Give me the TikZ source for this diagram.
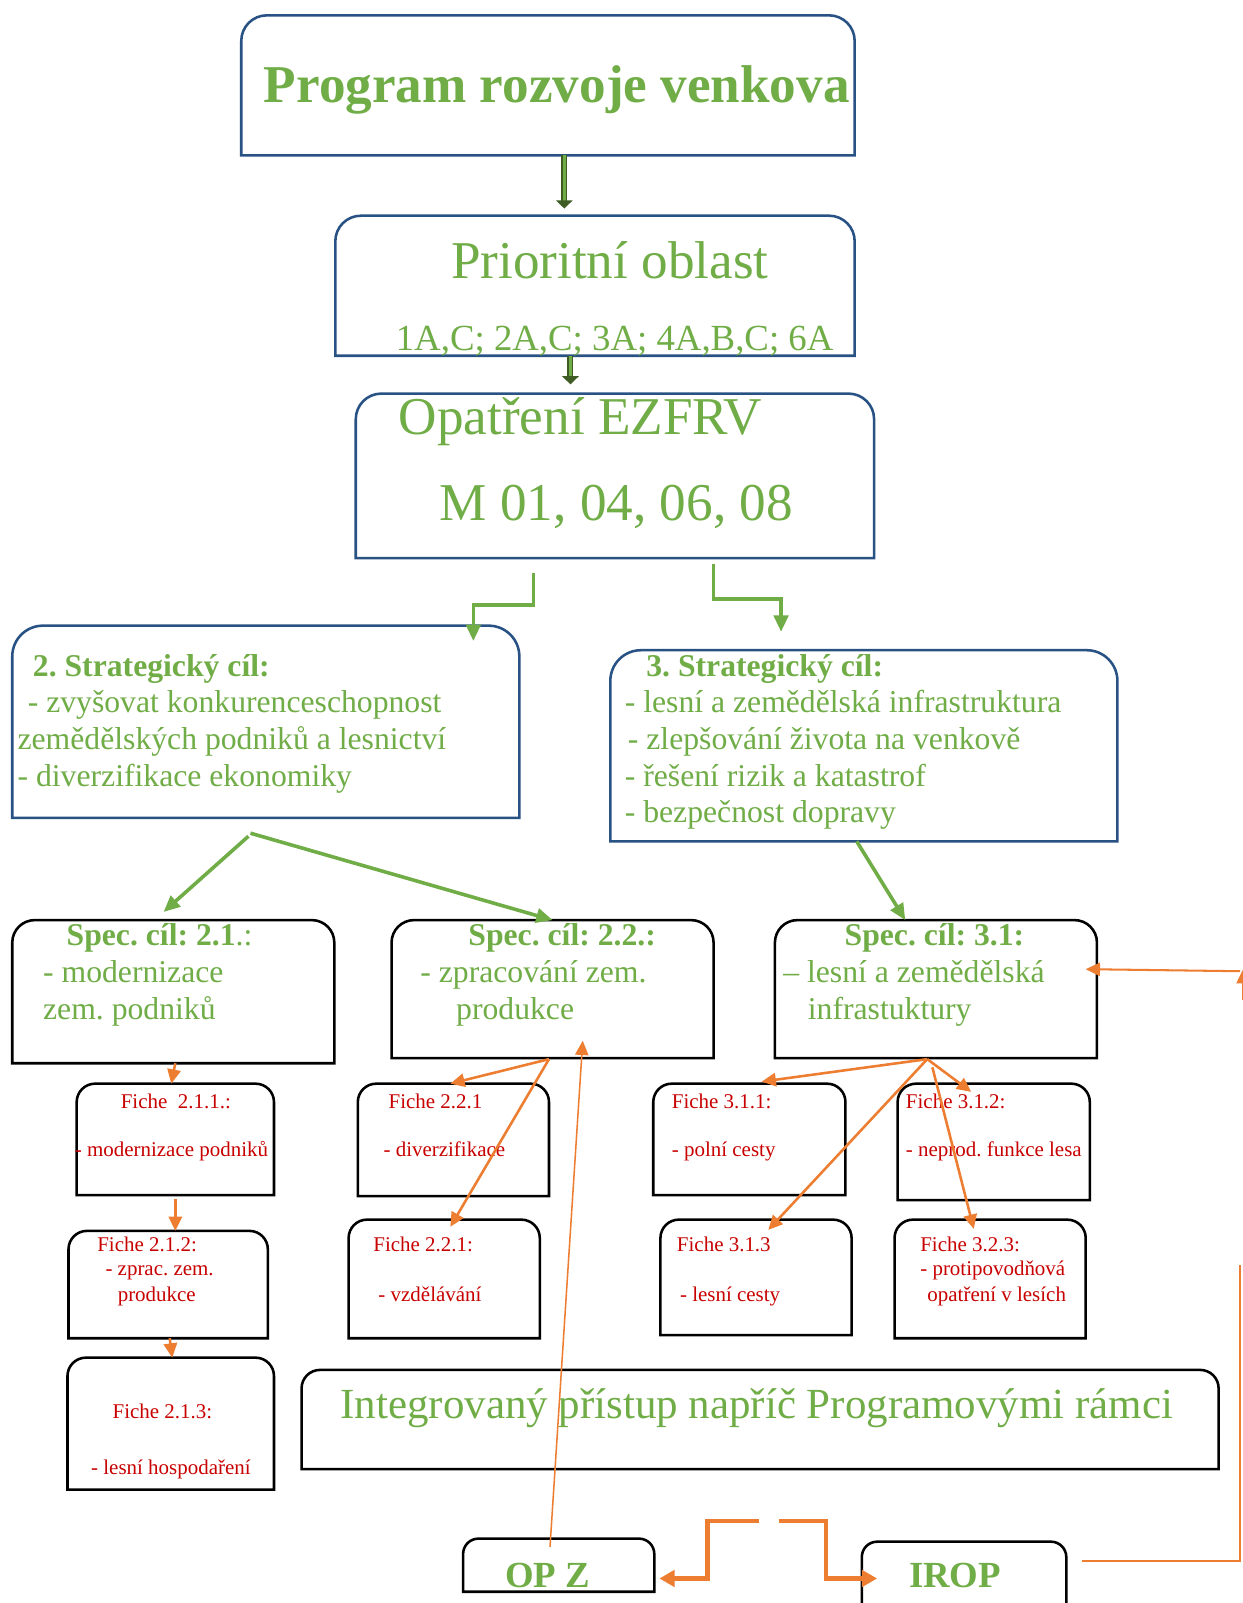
\documentclass[tikz,border=0pt]{standalone}
\usepackage{fontspec}
\setmainfont{Liberation Serif}
\usetikzlibrary{arrows.meta}
\frenchspacing

\definecolor{leaf}{RGB}{112,173,71}
\definecolor{navy}{RGB}{41,82,132}
\definecolor{moss}{RGB}{62,92,36}
\definecolor{carrot}{RGB}{237,125,49}
\definecolor{ruby}{RGB}{200,0,0}

\begin{document}
\begin{tikzpicture}[x=1pt, y=-1pt]
    % --- Styles ---
    \tikzstyle{box}=[inner sep=0pt, outer sep=0pt]
    \tikzstyle{frame_blue}=[draw=navy, line width=2.5pt]
    \tikzstyle{frame_black}=[draw=black, line width=2.5pt]
    \tikzstyle{txt}=[anchor=base west, inner sep=0pt, text=leaf]
    \tikzstyle{head_text}=[txt, font=\bfseries\fontsize{52}{60}\selectfont]
    \tikzstyle{big_text}=[txt, font=\fontsize{52}{60}\selectfont]
    \tikzstyle{mid_text}=[txt, font=\fontsize{36}{42}\selectfont]
    \tikzstyle{goal_text}=[txt, font=\fontsize{31}{36}\selectfont]
    \tikzstyle{goal_head}=[txt, font=\bfseries\fontsize{31}{36}\selectfont]
    \tikzstyle{fiche_text}=[txt, text=ruby, font=\fontsize{20.5}{24}\selectfont]
    \tikzstyle{frame_text}=[txt, font=\fontsize{42}{48}\selectfont]
    \tikzstyle{op_text}=[txt, font=\bfseries\fontsize{36}{42}\selectfont]
    \tikzstyle{double_arrow}=[draw=moss, double=leaf, double distance=2.6pt, line width=1.6pt,
        -{Triangle[length=8pt, width=16pt]}]
    \tikzstyle{green_arrow}=[draw=leaf, line width=3.5pt, -{Triangle[length=16pt, width=14pt]}]
    \tikzstyle{orange_arrow}=[draw=carrot, line width=2.5pt, -{Triangle[length=14pt, width=13pt]}]
    \tikzstyle{thin_orange}=[draw=carrot, line width=1.5pt]
    \tikzstyle{wide_orange}=[draw=carrot, line width=4pt, -{Triangle[length=15pt, width=16pt]}]

    \useasboundingbox[fill=white] (0,0) rectangle (1215,1568);

    % --- 1. Boxes ---
    \node[box, minimum width=600pt, minimum height=137pt] (prog) at (536,83.5) {};
    \node[box, minimum width=508pt, minimum height=137pt] (prio) at (582,279.5) {};
    \node[box, minimum width=507pt, minimum height=161pt] (opat) at (601.5,465.5) {};
    \node[box, minimum width=496pt, minimum height=188pt] (strat2) at (260,706) {};
    \node[box, minimum width=496pt, minimum height=187pt] (strat3) at (845,729.5) {};

    \node[box, minimum width=315pt, minimum height=140pt] (spec21) at (169.5,970) {};
    \node[box, minimum width=315pt, minimum height=135pt] (spec22) at (540.5,967.5) {};
    \node[box, minimum width=315pt, minimum height=135pt] (spec31) at (915.5,967.5) {};

    \node[box, minimum width=193pt, minimum height=109pt] (f211) at (171.5,1114.5) {};
    \node[box, minimum width=195pt, minimum height=105pt] (f212) at (164.5,1256.5) {};
    \node[box, minimum width=202pt, minimum height=129pt] (f213) at (167,1392.5) {};
    \node[box, minimum width=187pt, minimum height=110pt] (f221a) at (443.5,1115) {};
    \node[box, minimum width=187pt, minimum height=116pt] (f221b) at (434.5,1251) {};
    \node[box, minimum width=188pt, minimum height=109pt] (f311) at (733,1114.5) {};
    \node[box, minimum width=188pt, minimum height=114pt] (f312) at (972,1117) {};
    \node[box, minimum width=187pt, minimum height=113pt] (f313) at (739.5,1249.5) {};
    \node[box, minimum width=187pt, minimum height=116pt] (f323) at (968.5,1251) {};

    \node[box, minimum width=897pt, minimum height=97pt] (integ) at (743.5,1388.5) {};
    \node[box, minimum width=187pt, minimum height=52pt] (opz) at (546.5,1531) {};
    \node[box, minimum width=200pt, minimum height=102pt] (irop) at (943,1559) {};

    % outlines: round top corners, square bottom corners
    \foreach \n/\rad in {prog/25, prio/25, opat/25, strat2/30, strat3/30}
        \draw[frame_blue] (\n.south west) [rounded corners=\rad pt] -- (\n.north west)
            -- (\n.north east) [sharp corners] -- (\n.south east) -- cycle;
    \foreach \n/\rad in {spec21/22, spec22/22, spec31/22, f211/18, f212/18, f213/18,
        f221a/18, f221b/18, f311/18, f312/18, f313/18, f323/18, integ/18, opz/15, irop/15}
        \draw[frame_black] (\n.south west) [rounded corners=\rad pt] -- (\n.north west)
            -- (\n.north east) [sharp corners] -- (\n.south east) -- cycle;

    % --- 2. Texts ---
    \node[head_text] (prog_t) at (258,100) {Program rozvoje venkova};
    \node[big_text] (prio_t1) at (441,272) {Prioritní oblast};
    \node[mid_text] (prio_t2) at (387,343) {1A,C; 2A,C; 3A; 4A,B,C; 6A};
    \node[big_text] (opat_t1) at (390,425) {Opatření EZFRV};
    \node[big_text] (opat_t2) at (430,509) {M 01, 04, 06, 08};

    \node[goal_head] (s2_t1) at (32,662) {2. Strategický cíl:};
    \node[goal_text] (s2_t2) at (27,697) {- zvyšovat konkurenceschopnost};
    \node[goal_text] (s2_t3) at (17,733) {zemědělských podniků a lesnictví};
    \node[goal_text] (s2_t4) at (17,769) {- diverzifikace ekonomiky};

    \node[goal_head] (s3_t1) at (632,662) {3. Strategický cíl:};
    \node[goal_text] (s3_t2) at (611,697) {- lesní a zemědělská infrastruktura};
    \node[goal_text] (s3_t3) at (614,733) {- zlepšování života na venkově};
    \node[goal_text] (s3_t4) at (611,769) {- řešení rizik a katastrof};
    \node[goal_text] (s3_t5) at (611,805) {- bezpečnost dopravy};

    \node[goal_text] (c21_t1) at (65,925) {\textbf{Spec. cíl: 2.1}.:};
    \node[goal_text] (c21_t2) at (42,961) {- modernizace};
    \node[goal_text] (c21_t3) at (42,997) {zem. podniků};
    \node[goal_head] (c22_t1) at (458,925) {Spec. cíl: 2.2.:};
    \node[goal_text] (c22_t2) at (411,961) {- zpracování zem.};
    \node[goal_text] (c22_t3) at (446,997) {produkce};
    \node[goal_head] (c31_t1) at (826,925) {Spec. cíl: 3.1:};
    \node[goal_text] (c31_t2) at (766,961) {– lesní a zemědělská};
    \node[goal_text] (c31_t3) at (790,997) {infrastuktury};

    \node[fiche_text] (f211_t1) at (118,1084) {Fiche\ \ 2.1.1.:};
    \node[fiche_text] (f211_t2) at (73,1131) {- modernizace podniků};
    \node[fiche_text] (f212_t1) at (95,1224) {Fiche 2.1.2:};
    \node[fiche_text] (f212_t2) at (103,1248) {- zprac. zem.};
    \node[fiche_text] (f212_t3) at (115,1273) {produkce};
    \node[fiche_text] (f213_t1) at (110,1388) {Fiche 2.1.3:};
    \node[fiche_text] (f213_t2) at (89,1442) {- lesní hospodaření};
    \node[fiche_text] (f221a_t1) at (380,1084) {Fiche 2.2.1};
    \node[fiche_text] (f221a_t2) at (375,1131) {- diverzifikace};
    \node[fiche_text] (f221b_t1) at (365,1224) {Fiche 2.2.1:};
    \node[fiche_text] (f221b_t2) at (370,1273) {- vzdělávání};
    \node[fiche_text] (f311_t1) at (657,1084) {Fiche 3.1.1:};
    \node[fiche_text] (f311_t2) at (657,1131) {- polní cesty};
    \node[fiche_text] (f312_t1) at (886,1084) {Fiche 3.1.2:};
    \node[fiche_text] (f312_t2) at (886,1131) {- neprod. funkce lesa};
    \node[fiche_text] (f313_t1) at (662,1224) {Fiche 3.1.3};
    \node[fiche_text] (f313_t2) at (665,1273) {- lesní cesty};
    \node[fiche_text] (f323_t1) at (900,1224) {Fiche 3.2.3:};
    \node[fiche_text] (f323_t2) at (900,1248) {- protipovodňová};
    \node[fiche_text] (f323_t3) at (907,1273) {opatření v lesích};

    \node[frame_text] (integ_t) at (333,1388) {Integrovaný přístup napříč Programovými rámci};
    \node[op_text] (opz_t) at (494,1553) {OP Z};
    \node[op_text] (irop_t) at (889,1553) {IROP};

    % --- 3. Green connectors ---
    \draw[double_arrow] ([xshift=16pt]prog.south) -- ([xshift=-30pt,yshift=7pt]prio.north);
    \draw[double_arrow] ([xshift=-24pt]prio.south) -- ([xshift=-43.5pt,yshift=9pt]opat.north);

    \draw[green_arrow] ([xshift=-79.5pt,yshift=-14pt]opat.south) -- ++(0,32)
        -| ([xshift=203pt,yshift=-15pt]strat2.north);
    \draw[green_arrow] ([xshift=96.5pt,yshift=-6pt]opat.south) -- ++(0,34)
        -| ([xshift=-81pt,yshift=18pt]strat3.north);
    \draw[green_arrow] ([xshift=-17pt,yshift=-18pt]strat2.south) -- ([xshift=-9.5pt,yshift=8pt]spec21.north);
    \draw[green_arrow] ([xshift=-15pt,yshift=-15pt]strat2.south) -- (spec22.north);
    \draw[green_arrow] ([xshift=-7pt]strat3.south) -- ([xshift=-30pt]spec31.north);

    % --- 4. Orange connectors ---
    \coordinate (fan22) at (537,1036);
    \coordinate (fan31) at (907,1036);
    \draw[orange_arrow] (f211.north |- spec21.south) -- ([xshift=-4pt]f211.north);
    \draw[orange_arrow] ([yshift=-4pt]f211.south) -- (f211.south |- f212.north);
    \draw[orange_arrow] ([xshift=1.5pt]f212.south) -- ([xshift=1.5pt]f213.north);
    \draw[orange_arrow] (fan22) -- ([xshift=-3pt]f221a.north);
    \draw[orange_arrow] (fan22) -- ([xshift=6pt,yshift=-7pt]f221b.north);
    \draw[orange_arrow] (fan31) -- ([xshift=12pt,yshift=2pt]f311.north);
    \draw[orange_arrow] (fan31) -- ([xshift=12pt,yshift=-10pt]f313.north);
    \draw[orange_arrow] (fan31) -- ([xshift=-22pt,yshift=-8pt]f312.north);
    \draw[orange_arrow] ([xshift=5pt,yshift=-8pt]fan31) -- ([xshift=-16pt,yshift=-9pt]f323.north);

    \draw[thin_orange, -{Triangle[length=14pt, width=13pt]}] ([xshift=-8.5pt,yshift=-8pt]opz.north)
        -- ([xshift=29.5pt,yshift=17pt]spec22.south);

    \coordinate (edge_low) at (1213,1237);
    \coordinate (edge_mid) at (1213,950);
    \coordinate (edge_up) at (1216,948);
    \draw[thin_orange] ([xshift=15pt,yshift=-19pt]irop.north east) -| (edge_low);
    \draw[orange_arrow, line width=2pt] (edge_mid) -- ([xshift=-11pt,yshift=19.5pt]spec31.east);
    \draw[orange_arrow] ([yshift=-30pt]edge_up) -- (edge_up);

    \coordinate (gap_l) at (742,1488);
    \coordinate (gap_r) at (762,1488);
    \draw[wide_orange] (gap_l) -- ++(-50,0) |- ([xshift=5pt,yshift=-13pt]opz.east);
    \draw[wide_orange] (gap_r) -- ++(46,0) |- ([xshift=15pt,yshift=15pt]irop.west);

\end{tikzpicture}
\end{document}
